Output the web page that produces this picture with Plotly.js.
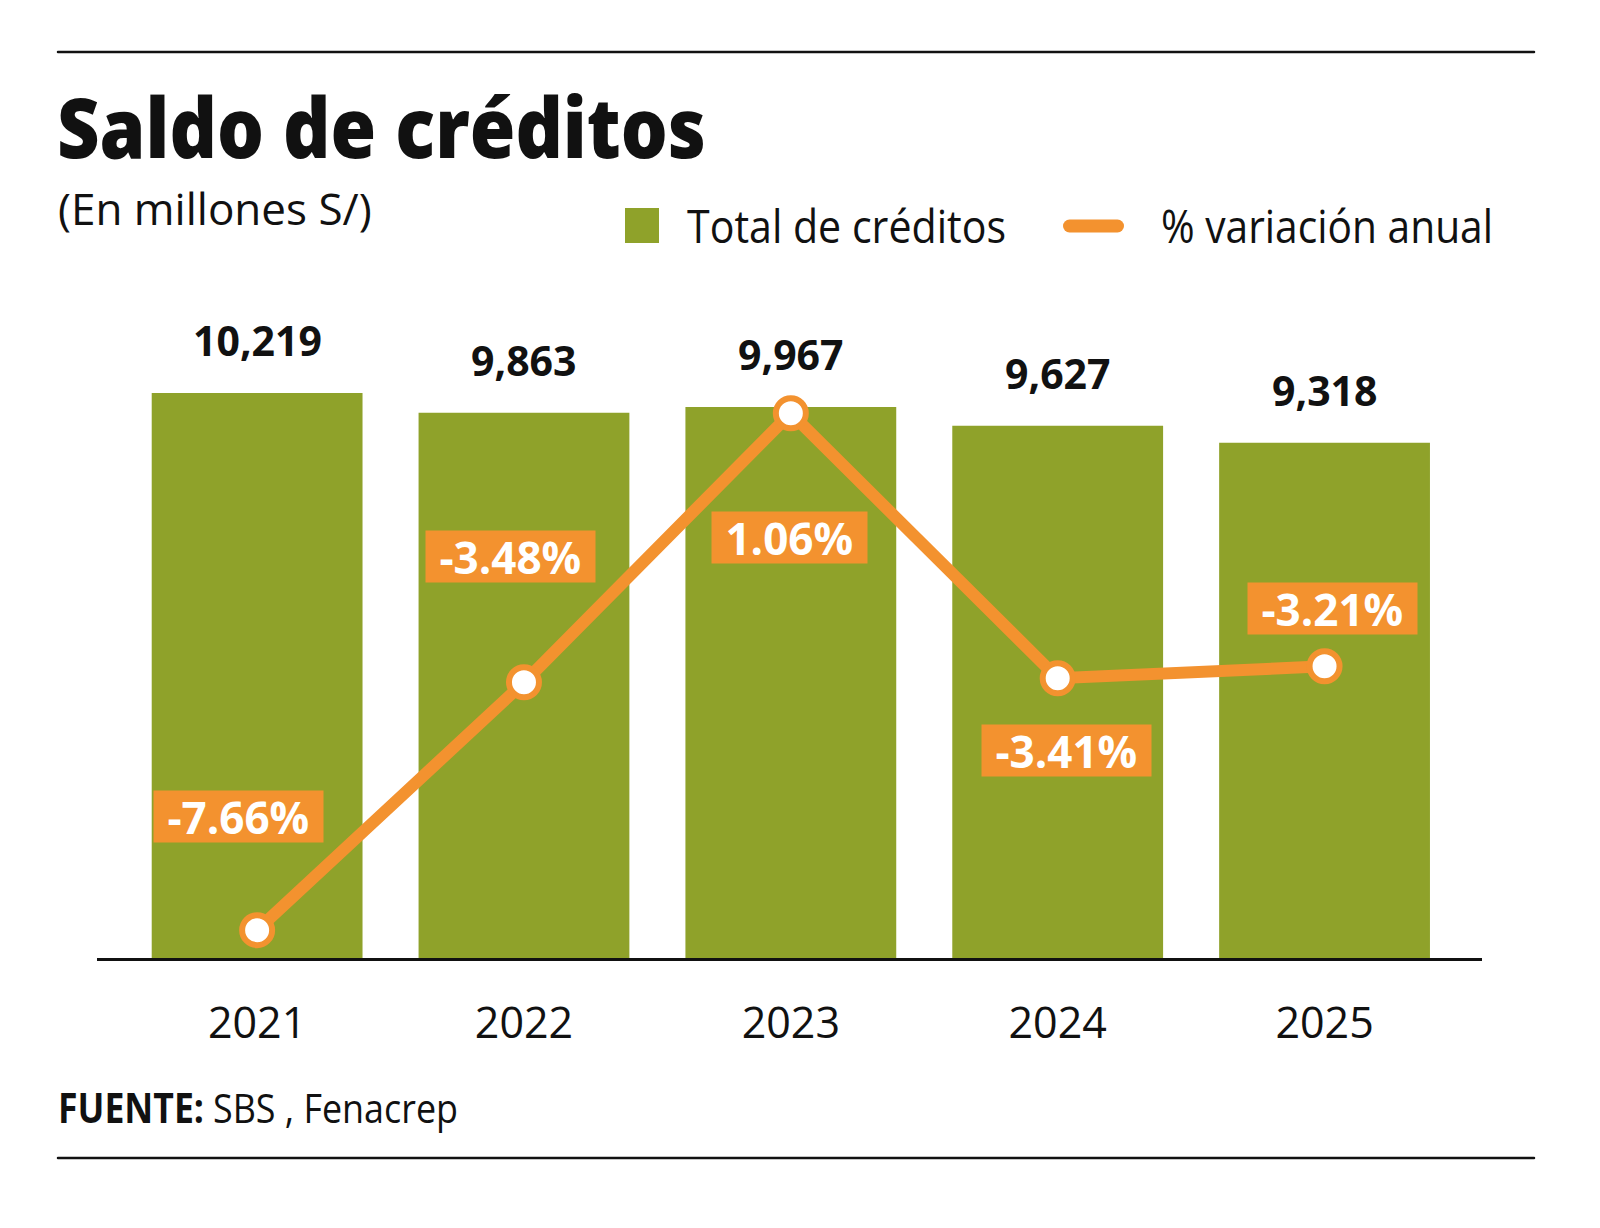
<!DOCTYPE html>
<html><head><meta charset="utf-8">
<script src="https://cdn.plot.ly/plotly-3.0.1.min.js"></script>
<style>
body{margin:0;background:#fff}
.shapelayer path{stroke-linecap:round}
</style></head>
<body>
<div id="chart" style="width:1600px;height:1228px"></div>
<script>
// ---- data ----
const years = ['2021', '2022', '2023', '2024', '2025'];
const totalCreditos = [10219, 9863, 9967, 9627, 9318];
const variacionAnual = [-7.66, -3.48, 1.06, -3.41, -3.21];

// ---- texts ----
const titleText = 'Saldo de créditos';
const subtitleText = '(En millones S/)';
const legendBarText = 'Total de créditos';
const legendLineText = '% variación anual';
const sourceLabel = '<b>FUENTE:</b>';
const sourceText = 'SBS , Fenacrep';

// ---- style ----
const GREEN = '#8fa22a';
const ORANGE = '#f3922f';
const INK = '#111111';
const FONT = "'Open Sans', sans-serif";
const W = 1600, H = 1228;
const M = {l: 97, r: 118, t: 300, b: 270};
const PW = W - M.l - M.r, PH = H - M.t - M.b;
const px = x => (x - M.l) / PW;
const py = y => (H - M.b - y) / PH;

// label placement nudges for the % labels (pixels: dx, dy up)
const pctNudge = [[-19, 114], [-13, 126], [-1, -124], [9, -72], [8, 58]];
// rendered text widths (px) to mimic the narrower original typeface
const fitWidths = {0: 649, 2: 319, 3: 332, 4: 146, 5: 245};

const traces = [
  {
    type: 'bar', x: years, y: totalCreditos, marker: {color: GREEN},
    hoverinfo: 'skip', showlegend: false
  },
  {
    type: 'scatter', mode: 'lines+markers', x: years, y: variacionAnual, yaxis: 'y2',
    line: {color: ORANGE, width: 12},
    marker: {size: 30, color: '#ffffff', line: {color: ORANGE, width: 6}},
    hoverinfo: 'skip', showlegend: false, cliponaxis: false
  }
];

const annotations = [];
function txt(x, y, text, size, weight) {
  annotations.push({
    xref: 'paper', yref: 'paper', x: px(x), y: py(y), text: text,
    showarrow: false, xanchor: 'left', yanchor: 'middle', align: 'left', borderpad: 0,
    font: {family: FONT, size: size, weight: weight || 400, color: INK}
  });
}
txt(56, 125, titleText, 84, 800);      // 0
txt(57, 208, subtitleText, 44);        // 1
txt(686, 225, legendBarText, 46);      // 2
txt(1160, 225, legendLineText, 46);    // 3
txt(57, 1107, sourceLabel, 41);        // 4
txt(212, 1107, sourceText, 41);        // 5

// value labels above bars (x = category index on the category axis)
totalCreditos.forEach((v, i) => {
  annotations.push({
    x: i, y: v, xref: 'x', yref: 'y', text: v.toLocaleString('en-US'),
    showarrow: false, xanchor: 'center', yanchor: 'bottom', yshift: 24, borderpad: 0,
    font: {family: FONT, size: 41, weight: 700, color: INK}
  });
});
// % labels in orange boxes
variacionAnual.forEach((v, i) => {
  annotations.push({
    x: i, y: v, xref: 'x', yref: 'y2',
    text: '\u00a0' + v.toFixed(2) + '%\u00a0',
    showarrow: false, xanchor: 'center', yanchor: 'middle',
    xshift: pctNudge[i][0], yshift: pctNudge[i][1],
    bgcolor: ORANGE, borderpad: 2, height: 47,
    font: {family: FONT, size: 44, weight: 700, color: '#ffffff'}
  });
});

const shapes = [
  {type: 'line', xref: 'paper', yref: 'paper', x0: px(58), x1: px(1534), y0: py(52), y1: py(52), line: {color: INK, width: 2.5}},
  {type: 'line', xref: 'paper', yref: 'paper', x0: px(58), x1: px(1534), y0: py(1158), y1: py(1158), line: {color: INK, width: 2.5}},
  {type: 'rect', xref: 'paper', yref: 'paper', x0: px(625), x1: px(659), y0: py(243), y1: py(208), fillcolor: GREEN, line: {width: 0}},
  {type: 'line', xref: 'paper', yref: 'paper', x0: px(1069.5), x1: px(1117.5), y0: py(226), y1: py(226), line: {color: ORANGE, width: 13}}
];

const layout = {
  width: W, height: H, margin: M,
  paper_bgcolor: '#ffffff', plot_bgcolor: 'rgba(0,0,0,0)',
  showlegend: false, bargap: 0.21,
  xaxis: {
    type: 'category', range: [-0.6, 4.59], fixedrange: true,
    showline: true, linecolor: INK, linewidth: 2.5, showgrid: false, zeroline: false,
    ticks: '', ticklabelstandoff: 26,
    tickfont: {family: FONT, size: 43, color: INK}
  },
  yaxis: {range: [0, 11900], visible: false, showgrid: false, zeroline: false, fixedrange: true},
  yaxis2: {range: [-8.13, 2.97], overlaying: 'y', visible: false, showgrid: false, zeroline: false, fixedrange: true},
  annotations: annotations,
  shapes: shapes
};

Plotly.newPlot('chart', traces, layout, {displayModeBar: false, staticPlot: true}).then(gd => {
  Object.keys(fitWidths).forEach(idx => {
    const t = gd.querySelector('.annotation[data-index="' + idx + '"] text');
    if (t) {
      t.setAttribute('textLength', fitWidths[idx]);
      t.setAttribute('lengthAdjust', 'spacingAndGlyphs');
    }
  });
});
</script>
</body></html>
